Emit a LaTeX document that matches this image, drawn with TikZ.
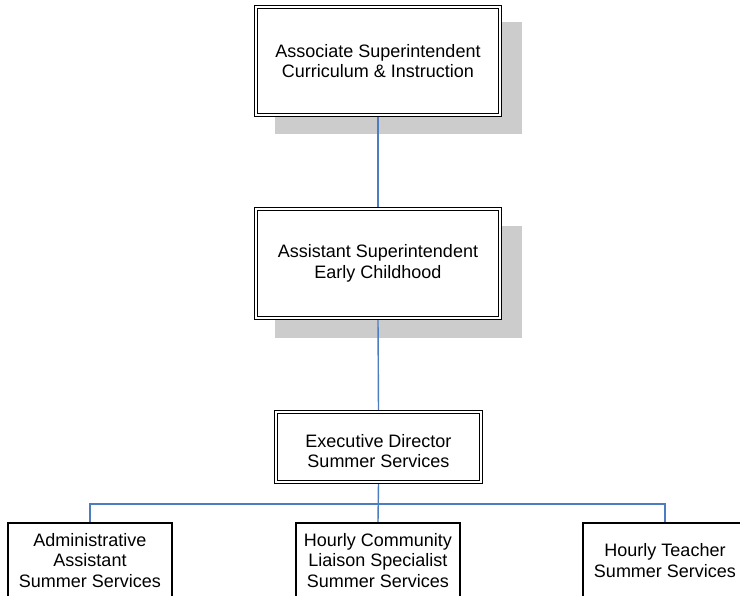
\documentclass[tikz,border=0pt]{standalone}
\usepackage{fontspec}
\setmainfont{Liberation Sans}
\usetikzlibrary{backgrounds}
\definecolor{shadowgray}{RGB}{204,204,204}
\definecolor{linkblue}{RGB}{74,126,193}
\tikzset{
  lbl/.style={font=\fontsize{18}{20.5}\selectfont, align=center, inner sep=0pt},
  dblbox/.style={lbl, draw=black, fill=white, double=white, double distance=2pt, line width=1.3pt},
  plainbox/.style={lbl, draw=black, fill=white, line width=1.2pt},
  shadowrect/.style={fill=shadowgray},
  link/.style={draw=linkblue, line width=1.4pt}
}
\begin{document}
\begin{tikzpicture}[x=1pt,y=-1pt]
\useasboundingbox (0,0) rectangle (740,596);
\clip (0,0) rectangle (740,596);
\node[dblbox, minimum width=244pt, minimum height=108pt] (top) at (378,61)
  {Associate Superintendent\\Curriculum \& Instruction};
\node[dblbox, minimum width=244pt, minimum height=109pt] (mid) at (378,263.5)
  {Assistant Superintendent\\Early Childhood};
\node[dblbox, minimum width=205pt, minimum height=70pt] (exec) at (378.5,447)
  {\rule{0pt}{21pt}Executive Director\\Summer Services};
\node[plainbox, minimum width=164pt, minimum height=75pt] (b1) at (90,560.5)
  {Administrative\\Assistant\\Summer Services};
\node[plainbox, minimum width=164pt, minimum height=75pt] (b2) at (378,560.5)
  {Hourly Community\\Liaison Specialist\\Summer Services};
\node[plainbox, minimum width=164pt, minimum height=75pt] (b3) at (665,560.5)
  {Hourly Teacher\\Summer Services};
\coordinate (bus) at (378,504);
\begin{scope}[on background layer]
  \fill[shadowrect] (275,22) rectangle (522,134);
  \fill[shadowrect] (275,226) rectangle (522,338);
  \draw[link] (top.south) -- (mid.north);
  \draw[link] (mid.south) -- (exec.north);
  \draw[link] (exec.south) -- (b2.north);
  \draw[link] (b1.north) |- (bus) -| (b3.north);
\end{scope}
\end{tikzpicture}
\end{document}
